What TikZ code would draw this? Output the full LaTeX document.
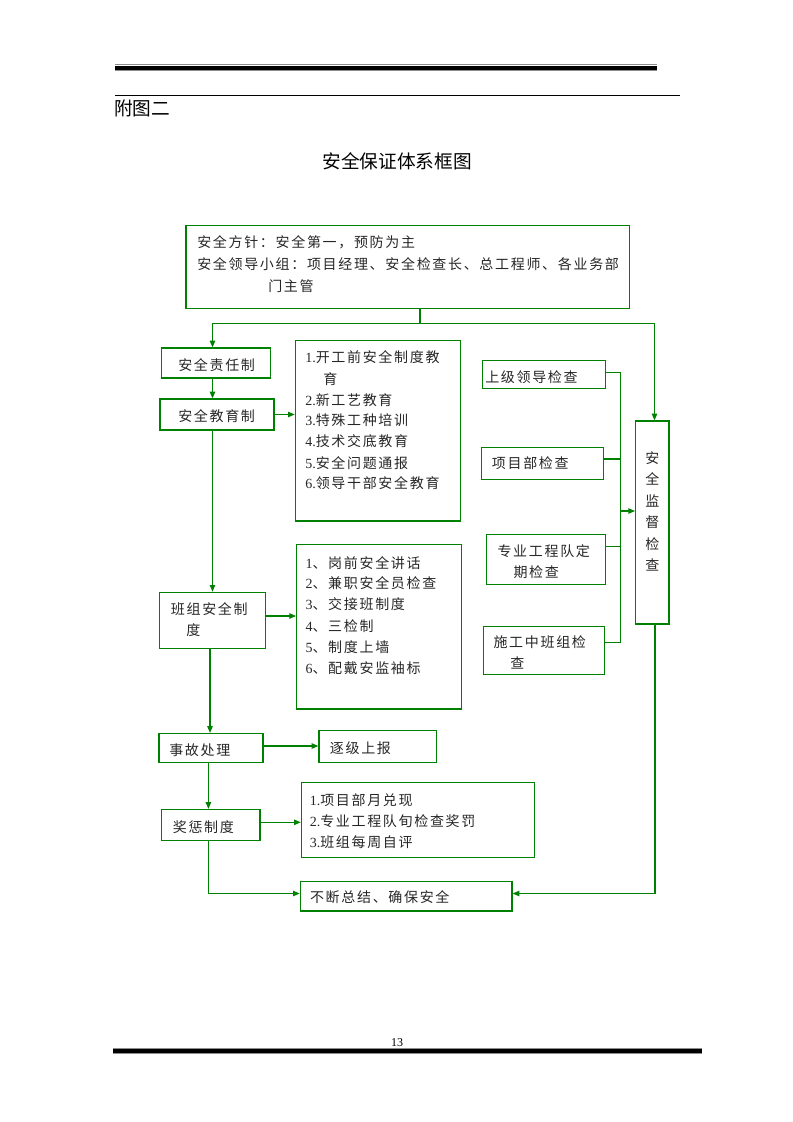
\documentclass[tikz,border=0pt]{standalone}
\usepackage{fontspec}
\setmainfont{Liberation Serif}
\newfontfamily\cjk{Noto Sans CJK SC}
\newfontfamily\cjks{Noto Sans CJK SC}[LetterSpace=12]
\usetikzlibrary{arrows.meta,fit}
\definecolor{lg}{RGB}{0,128,0}
\newcommand\dg[1]{{\rmfamily #1}}
\tikzset{
  box/.style={draw=lg, line width=0.9pt, inner sep=0pt, rectangle},
  txt/.style={anchor=west, inner sep=0pt, font=\cjks\fontsize{10.5}{12}\selectfont, text=black!85},
  ln/.style={draw=lg, line width=0.9pt},
  arr/.style={ln, -{Triangle[length=5pt,width=4pt]}},
}
\begin{document}
\begin{tikzpicture}[x=0.75pt,y=-0.75pt]
\useasboundingbox (0,0) rectangle (793,1122);
% header and footer rules
\draw[black!45, line width=0.8pt] (115,64.8) -- (657,64.8);
\draw[black, line width=3pt] (115,67.6) -- (657,67.6);
\draw[black!45, line width=0.8pt] (115,70.4) -- (657,70.4);
\draw[black, line width=0.8pt] (115,95.5) -- (680,95.5);
\node[anchor=west, inner sep=0pt, font=\cjk\fontsize{14}{16}\selectfont] (fu) at (114,108) {附图二};
\node[inner sep=0pt, font=\cjk\fontsize{14}{16}\selectfont] (title) at (397,161) {安全保证体系框图};
\node[inner sep=0pt, font=\rmfamily\fontsize{9}{10}\selectfont] (pg) at (397,1043) {13};
\draw[black!45, line width=0.8pt] (113,1048.3) -- (702,1048.3);
\draw[black, line width=3pt] (113,1050.8) -- (702,1050.8);
\draw[black!45, line width=0.8pt] (113,1053.6) -- (702,1053.6);

% boxes
\node[box, fit={(186,225.7) (629.3,308.3)}] (top) {};
\node[box, fit={(161.7,348) (270.7,378)}] (zr) {};
\node[box, fit={(160,399) (274,430)}] (jy) {};
\node[box, fit={(295.3,340.7) (460.3,521)}] (l1) {};
\node[box, fit={(159.3,592.3) (265.3,648.3)}] (bz) {};
\node[box, fit={(296.7,544.3) (461.3,709)}] (l2) {};
\node[box, fit={(159,733.5) (263,762.2)}] (sg) {};
\node[box, fit={(319,730.7) (436.5,762.5)}] (zj) {};
\node[box, fit={(161.7,809.5) (260,840.6)}] (jc) {};
\node[box, fit={(301.4,782.5) (534.5,857.8)}] (l3) {};
\node[box, fit={(300.3,881.5) (512,910.9)}] (bd) {};
\node[box, fit={(482.3,360.7) (605.7,388.3)}] (s1) {};
\node[box, fit={(481.3,447.7) (603.3,479.3)}] (s2) {};
\node[box, fit={(486.3,534.3) (605.7,584.3)}] (s3) {};
\node[box, fit={(483.3,626.7) (604.3,674.5)}] (s4) {};
\node[box, fit={(635.7,421) (669,624)}] (jd) {};

% texts
\node[txt] (t1) at (197,242.7) {安全方针：安全第一，预防为主};
\node[txt] (t2) at (197,263.7) {安全领导小组：项目经理、安全检查长、总工程师、各业务部};
\node[txt] (t3) at (268,285.7) {门主管};
\node[txt] (tzr) at (178,365) {安全责任制};
\node[txt] (tjy) at (178,416) {安全教育制};
\node[txt] (a1) at (305,356.7) {\dg{1.}开工前安全制度教};
\node[txt] (a1b) at (323,379) {育};
\node[txt] (a2) at (305,400) {\dg{2.}新工艺教育};
\node[txt] (a3) at (305,420.5) {\dg{3.}特殊工种培训};
\node[txt] (a4) at (305,441.5) {\dg{4.}技术交底教育};
\node[txt] (a5) at (305,463) {\dg{5.}安全问题通报};
\node[txt] (a6) at (305,483.5) {\dg{6.}领导干部安全教育};
\node[txt] (tbz) at (170.7,609) {班组安全制};
\node[txt] (tbz2) at (186,630) {度};
\node[txt] (b1) at (305.3,562.7) {\dg{1}、岗前安全讲话};
\node[txt] (b2) at (305.3,583.3) {\dg{2}、兼职安全员检查};
\node[txt] (b3) at (305.3,604) {\dg{3}、交接班制度};
\node[txt] (b4) at (305.3,625.7) {\dg{4}、三检制};
\node[txt] (b5) at (305.3,646.7) {\dg{5}、制度上墙};
\node[txt] (b6) at (305.3,668.3) {\dg{6}、配戴安监袖标};
\node[txt] (tsg) at (169,749.7) {事故处理};
\node[txt] (tzj) at (329.7,748) {逐级上报};
\node[txt] (tjc) at (172.6,827.4) {奖惩制度};
\node[txt] (c1) at (309.5,800) {\dg{1.}项目部月兑现};
\node[txt] (c2) at (309.5,820.7) {\dg{2.}专业工程队旬检查奖罚};
\node[txt] (c3) at (309.5,842.3) {\dg{3.}班组每周自评};
\node[txt] (tbd) at (309.8,897.5) {不断总结、确保安全};
\node[txt] (ts1) at (485,376.7) {上级领导检查};
\node[txt] (ts2) at (491.7,463.3) {项目部检查};
\node[txt] (ts3) at (497.3,551) {专业工程队定};
\node[txt] (ts3b) at (513.3,572.3) {期检查};
\node[txt] (ts4) at (493.3,642.3) {施工中班组检};
\node[txt] (ts4b) at (510,663) {查};
\node[inner sep=0pt, align=center, font=\cjk\fontsize{10.5}{16.1}\selectfont, text=black!85] (tjd) at (652.3,511.5) {安\\全\\监\\督\\检\\查};

% junction coordinates
\coordinate (jm) at (420,323.3);
\coordinate (jl) at (212.5,323.3);
\coordinate (jr) at (654.5,323.3);
\coordinate (xb) at (210,0);
\coordinate (xc) at (208.4,0);
\coordinate (ya) at (0,616);
\coordinate (yb) at (0,746);
\coordinate (yc) at (0,822.3);
\coordinate (yd) at (0,893.5);
\coordinate (bt) at (620.7,372.3);
\coordinate (bb) at (620.7,642.3);
\coordinate (bm) at (620.7,511);
\coordinate (xr) at (655,0);

% connectors
\draw[ln] (jm |- top.south) -- (jm);
\draw[ln] (jl) -- (jr);
\draw[arr] (jl) -- (jl |- zr.north);
\draw[arr] (jr) -- (jr |- jd.north);
\draw[arr] (zr.south -| jl) -- (jy.north -| jl);
\draw[arr] (jy.east) -- (l1.west |- jy.east);
\draw[arr] (jy.south -| jl) -- (bz.north -| jl);
\draw[arr] (bz.east |- ya) -- (l2.west |- ya);
\draw[arr] (bz.south -| xb) -- (sg.north -| xb);
\draw[arr] (sg.east |- yb) -- (zj.west |- yb);
\draw[arr] (sg.south -| xc) -- (jc.north -| xc);
\draw[arr] (jc.east |- yc) -- (l3.west |- yc);
\draw[arr] (jc.south -| xc) |- (bd.west |- yd);
\draw[arr] (jd.south -| xr) |- (bd.east |- yd);
\draw[ln] (bt) -- (bb);
\draw[ln] (s1.east |- bt) -- (bt);
\draw[ln] (s2.east |- 0,459) -- (bt |- 0,459);
\draw[ln] (s3.east |- 0,546.7) -- (bt |- 0,546.7);
\draw[ln] (s4.east |- bb) -- (bb);
\draw[arr] (bm) -- (jd.west |- bm);
\end{tikzpicture}
\end{document}
